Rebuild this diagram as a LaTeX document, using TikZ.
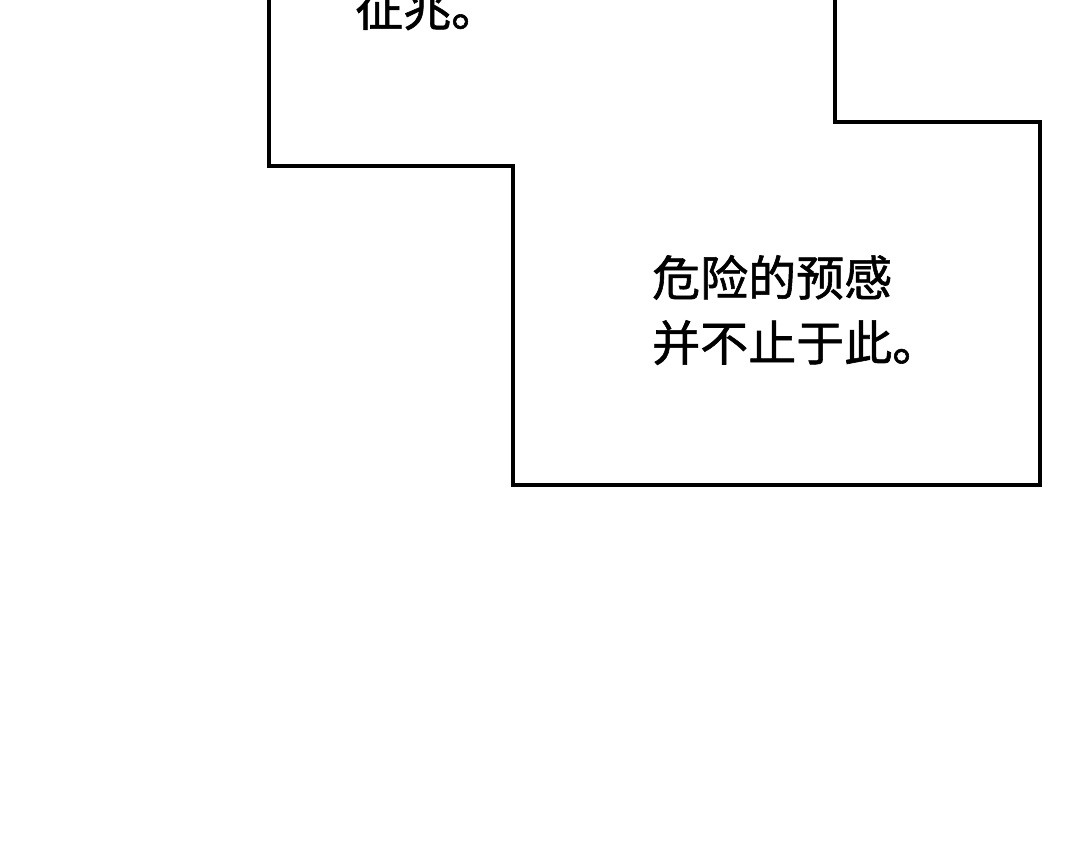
\documentclass[tikz,border=0pt]{standalone}
\usepackage{fontspec}
\newfontfamily\cjk[FakeBold=1.2]{Noto Sans CJK SC}
\begin{document}
\begin{tikzpicture}[x=1pt,y=-1pt,
  panel/.style={line width=3.5pt, line join=miter},
  caption/.style={font=\cjk\fontsize{48}{65}\selectfont, anchor=west, inner sep=0pt, align=left}]
	  \useasboundingbox (0,0) rectangle (1080,844);
	  \clip (0,0) rectangle (1080,844);
	  \draw [panel] (269,-10)--(269,166)--(513,166)--(513,485)--(1040,485)--(1040,122)--(835,122)--(835,-10);

	  \node [caption] (sign) at (355,8) {征兆。};
	  \node [caption] (omen) at (652,310) {危险的预感\\并不止于此。};
	\end{tikzpicture}
\end{document}
